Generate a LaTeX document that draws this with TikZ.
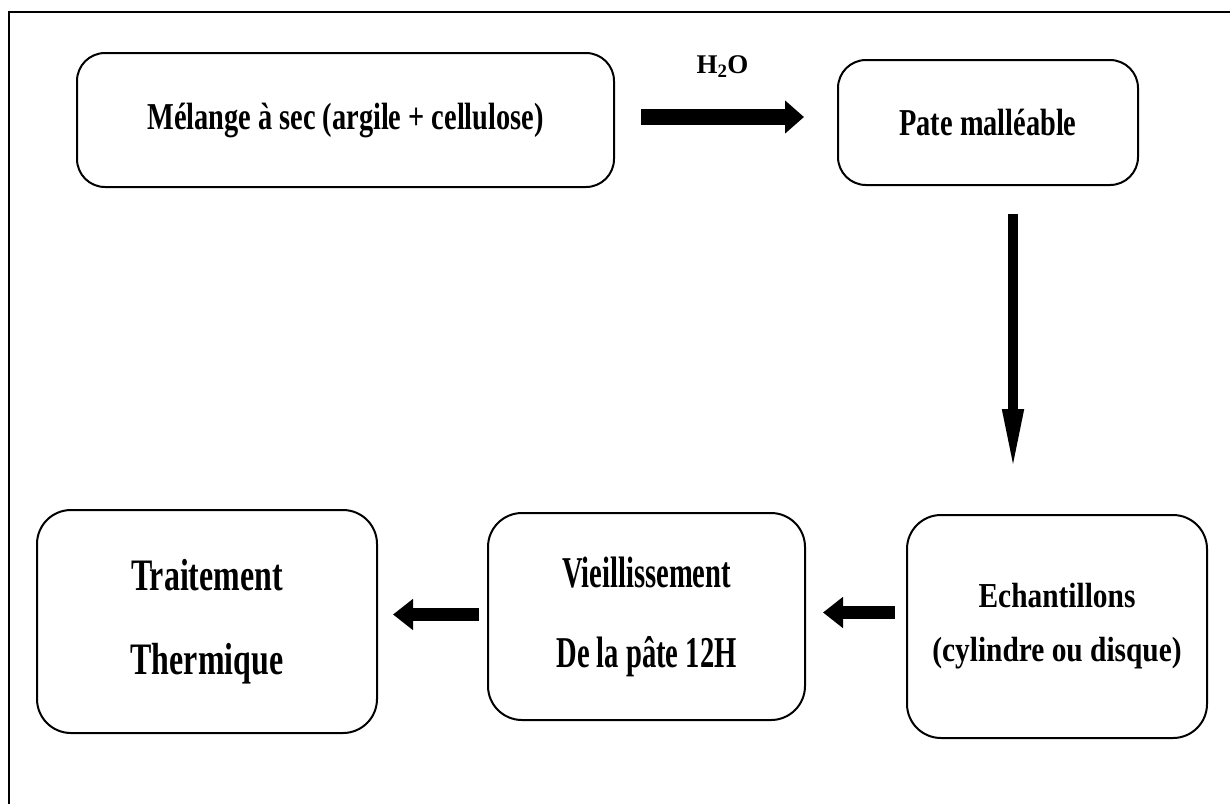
\documentclass[tikz,border=0pt]{standalone}
\usepackage{fontspec}
\setmainfont{Liberation Serif}
\newfontfamily\topfont{Liberation Serif}[FakeStretch=0.746]
\newfontfamily\leftfont{Liberation Serif}[FakeStretch=0.71]
\newfontfamily\midfont{Liberation Serif}[FakeStretch=0.65]
\newfontfamily\rightfont{Liberation Serif}[FakeStretch=0.84]
\usepackage{tikz}
\usetikzlibrary{arrows.meta, positioning}
\tikzset{
  stepbox/.style={rectangle, draw, line width=2pt, rounded corners=28pt, align=center, inner sep=0pt,
    font=\topfont\fontsize{38}{45}\selectfont\bfseries},
  bigarrow/.style={-{Triangle[length=19pt,width=32pt]}, line width=16pt},
  downarrow/.style={-{Triangle[length=64pt,width=19pt]}, line width=10pt},
  backarrow/.style={-{Triangle[length=20pt,width=30pt]}, line width=13pt},
}

\begin{document}
\begin{tikzpicture}[x=1pt, y=-1pt]
    \useasboundingbox (0,0) rectangle (1230,804);
    \draw[line width=2.5pt] (1230,12) -- (9,12) -- (9,804);
    \node[stepbox, minimum width=537pt, minimum height=134pt] (mix) at (345.5,120) {M\'elange \`a sec (argile + cellulose)};
    \node[stepbox, minimum width=300pt, minimum height=125pt] (pate) at (988,122.5) {Pate mall\'eable};
    \node[stepbox, minimum width=300pt, minimum height=223pt, rounded corners=34pt,
      font=\rightfont\fontsize{35}{42}\selectfont\bfseries] (ech) at (1057,626.5) {Echantillons\\[12pt](cylindre ou disque)};
    \node[stepbox, minimum width=317pt, minimum height=207pt, rounded corners=34pt,
      font=\midfont\fontsize{44}{53}\selectfont\bfseries] (vieil) at (646.5,616.5) {Vieillissement\\[27pt]De la p\^ate 12H};
    \node[stepbox, minimum width=340pt, minimum height=223pt, rounded corners=34pt,
      font=\leftfont\fontsize{45}{54}\selectfont\bfseries] (trait) at (207,621.5) {Traitement\\[30pt]Thermique};
    \draw[bigarrow] ([xshift=26pt,yshift=3pt]mix.east) -- ([xshift=-33pt,yshift=3pt]pate.west |- mix.east)
      node[midway, above=28pt, font=\fontsize{27}{32}\selectfont\bfseries] (water) {H\textsubscript{2}O};
    \draw[downarrow] ([xshift=25pt,yshift=-28pt]pate.south) -- ([xshift=25pt,yshift=-287pt]pate.south);
    \draw[backarrow] ([xshift=-11pt,yshift=14pt]ech.west) -- ([xshift=17pt,yshift=14pt]ech.west -| vieil.east);
    \draw[backarrow] ([xshift=-8pt,yshift=2pt]vieil.west) -- ([xshift=15pt,yshift=2pt]vieil.west -| trait.east);
  \end{tikzpicture}
\end{document}
